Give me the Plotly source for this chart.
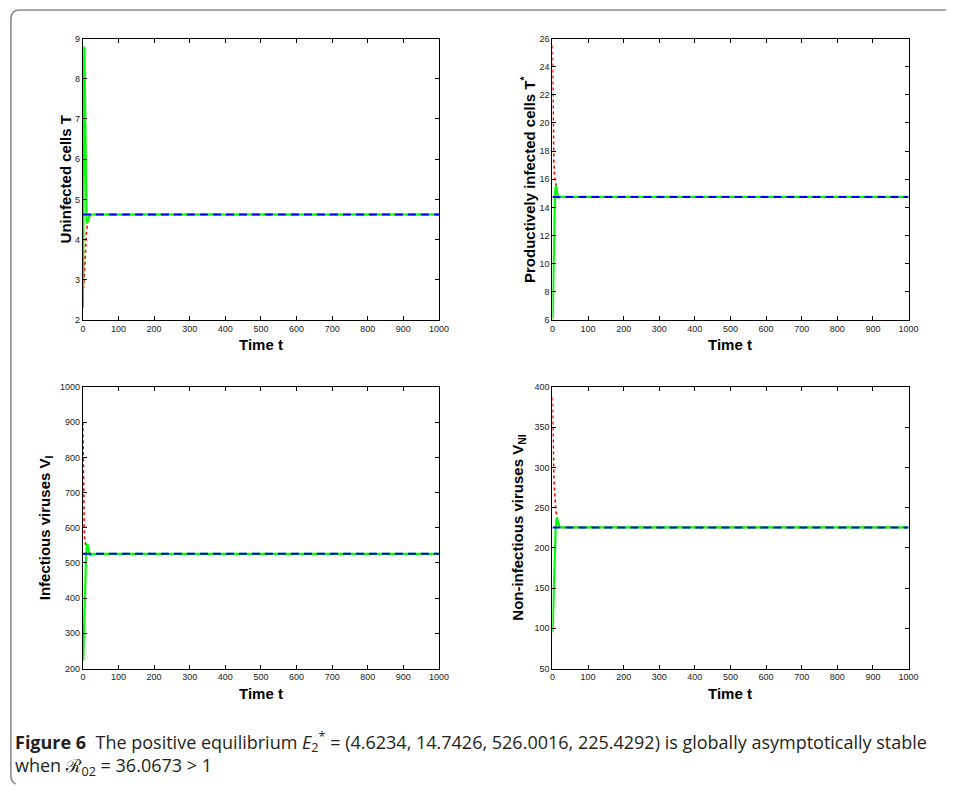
import plotly.graph_objects as go

W, H = 956, 792

# ---------------- data ----------------
eq_T, eq_Ts, eq_VI, eq_VNI = 4.6234, 14.7426, 526.0016, 225.4292
t_eq = [0, 1000]

t_red_T = [0, 0.5, 1, 1.5, 2, 4, 6, 8, 10, 14, 18, 24, 30, 1000]
red_T = [7.0, 5.6, 4.3, 3.3, 2.8, 3.1, 3.5, 3.9, 4.2, 4.45, 4.57, 4.62, 4.6234, 4.6234]
t_green_T = [0, 1, 2, 3, 4, 5, 6, 8, 10, 12, 14, 17, 20, 25, 1000]
green_T = [2.3, 4.5, 7.5, 8.7, 8.8, 8.2, 7.2, 5.4, 4.5, 4.4, 4.45, 4.55, 4.62, 4.6234, 4.6234]

t_red_Ts = [0, 1, 2, 3, 4, 6, 8, 10, 13, 16, 20, 1000]
red_Ts = [25.5, 23.0, 20.5, 18.5, 17.2, 16.2, 15.9, 15.4, 14.9, 14.75, 14.7426, 14.7426]
t_green_Ts = [0, 0.7, 1.5, 3, 4.5, 6, 7.5, 9, 10.5, 12, 13.5, 16, 20, 1000]
green_Ts = [7.3, 6.1, 6.8, 9.5, 12.0, 13.8, 15.0, 15.45, 15.55, 15.3, 14.9, 14.7, 14.7426, 14.7426]

t_red_VI = [0, 0.5, 1, 1.5, 2, 3, 4, 6, 8, 11, 14, 18, 24, 1000]
red_VI = [900, 820, 740, 690, 650, 605, 580, 560, 548, 537, 531, 528, 526.0016, 526.0016]
t_green_VI = [0, 0.7, 1.5, 3, 5, 7, 9, 11, 12.5, 14, 16, 19, 22, 26, 1000]
green_VI = [260, 222, 240, 310, 400, 470, 520, 550, 555, 548, 535, 524, 522, 526.0016, 526.0016]

t_red_VNI = [0, 0.5, 1, 2, 3, 4, 6, 8, 10, 13, 16, 20, 25, 1000]
red_VNI = [387, 370, 350, 325, 305, 290, 270, 256, 246, 236, 230, 227, 225.4292, 225.4292]
t_green_VNI = [0, 0.8, 1.5, 3, 5, 7, 9, 11, 12.5, 14, 16, 19, 23, 1000]
green_VNI = [112, 95, 105, 135, 170, 200, 222, 234, 238, 236, 230, 226, 225.4292, 225.4292]

x_ticks = list(range(0, 1001, 100))
y_titles = ["Uninfected cells T", "Productively infected cells T<sup>*</sup>",
            "Infectious viruses V<sub>I</sub>", "Non-infectious viruses V<sub>NI</sub>"]
x_title = "Time t"
y_ranges = [[2, 9], [6, 26], [200, 1000], [50, 400]]
y_dticks = [1, 2, 100, 50]

# ---------------- layout helpers ----------------
def px(x):
    return x / W

def py(y):
    return 1 - y / H

panels = [
    dict(x0=81, x1=442, y0=34, y1=319),
    dict(x0=557, x1=918, y0=34, y1=319),
    dict(x0=81, x1=442, y0=387, y1=672),
    dict(x0=557, x1=918, y0=387, y1=672),
]
series = [
    (t_red_T, red_T, t_green_T, green_T, eq_T),
    (t_red_Ts, red_Ts, t_green_Ts, green_Ts, eq_Ts),
    (t_red_VI, red_VI, t_green_VI, green_VI, eq_VI),
    (t_red_VNI, red_VNI, t_green_VNI, green_VNI, eq_VNI),
]

fig = go.Figure()
tick_font = dict(family="Liberation Sans, Arial, sans-serif", size=9, color="#222")
title_font = dict(family="Liberation Sans, Arial, sans-serif", size=15, color="black")

for i, (tr, vr, tg, vg, eq) in enumerate(series):
    ax = "" if i == 0 else str(i + 1)
    xa, ya = "x" + ax, "y" + ax
    fig.add_trace(go.Scatter(x=tr, y=vr, mode="lines", xaxis=xa, yaxis=ya,
                             line=dict(color="#ff0000", width=1.6, dash="dot"),
                             showlegend=False, hoverinfo="skip"))
    fig.add_trace(go.Scatter(x=tg, y=vg, mode="lines", xaxis=xa, yaxis=ya,
                             line=dict(color="#00ff00", width=2.2),
                             showlegend=False, hoverinfo="skip"))
    fig.add_trace(go.Scatter(x=t_eq, y=[eq, eq], mode="lines", xaxis=xa, yaxis=ya,
                             line=dict(color="#0000ff", width=2, dash="8px,5px"),
                             showlegend=False, hoverinfo="skip"))
    p = panels[i]
    common = dict(showline=True, mirror="ticks", linecolor="black", linewidth=1,
                  ticks="inside", ticklen=4, tickcolor="black", tickwidth=1,
                  showgrid=False, zeroline=False, tickfont=tick_font)
    fig.update_layout(**{
        "xaxis" + ax: dict(domain=[px(p["x0"]), px(p["x1"])], range=[0, 1000],
                           tickvals=x_ticks, anchor=ya, **common),
        "yaxis" + ax: dict(domain=[py(p["y1"]), py(p["y0"])], range=y_ranges[i],
                           dtick=y_dticks[i], anchor=xa, **common),
    })
    fig.add_annotation(xref="paper", yref="paper", x=px((p["x0"] + p["x1"]) / 2),
                       y=py(p["y1"] + 25), text="<b>" + x_title + "</b>", showarrow=False,
                       font=title_font, xanchor="center", yanchor="middle")

y_title_x = [63, 532, 43, 523]
for i, p in enumerate(panels):
    fig.add_annotation(xref="paper", yref="paper", x=px(y_title_x[i]),
                       y=py((p["y0"] + p["y1"]) / 2), text="<b>" + y_titles[i] + "</b>",
                       textangle=-90, showarrow=False, font=title_font,
                       xanchor="center", yanchor="middle")

# caption
cap_font = dict(family="Open Sans, Noto Sans, sans-serif", size=18, color="#231f20")
fig.add_annotation(xref="paper", yref="paper", x=px(10), y=py(746),
                   text="<b>Figure 6</b>  The positive equilibrium <i>E</i><sub>2</sub><sup>*</sup> = (4.6234, 14.7426, 526.0016, 225.4292) is globally asymptotically stable",
                   showarrow=False, font=cap_font, xanchor="left", yanchor="middle")
fig.add_annotation(xref="paper", yref="paper", x=px(10), y=py(771),
                   text="when ℛ<sub>02</sub> = 36.0673 &gt; 1",
                   showarrow=False, font=cap_font, xanchor="left", yanchor="middle")

# rounded frame (top + left edges)
path = (f"M {px(956)},{py(5)} L {px(17)},{py(5)} Q {px(8)},{py(5)} {px(8)},{py(14)} "
        f"L {px(8)},{py(780)} Q {px(8)},{py(787)} {px(13)},{py(789)}")
fig.add_shape(type="path", xref="paper", yref="paper", path=path,
              line=dict(color="#8a8a8a", width=1.6))

fig.update_layout(width=W, height=H, margin=dict(l=0, r=0, t=0, b=0),
                  paper_bgcolor="white", plot_bgcolor="white", showlegend=False)

fig.write_html("out.html", config={"displayModeBar": False},
               post_script="document.body.style.margin='0';document.body.style.overflow='hidden';")
